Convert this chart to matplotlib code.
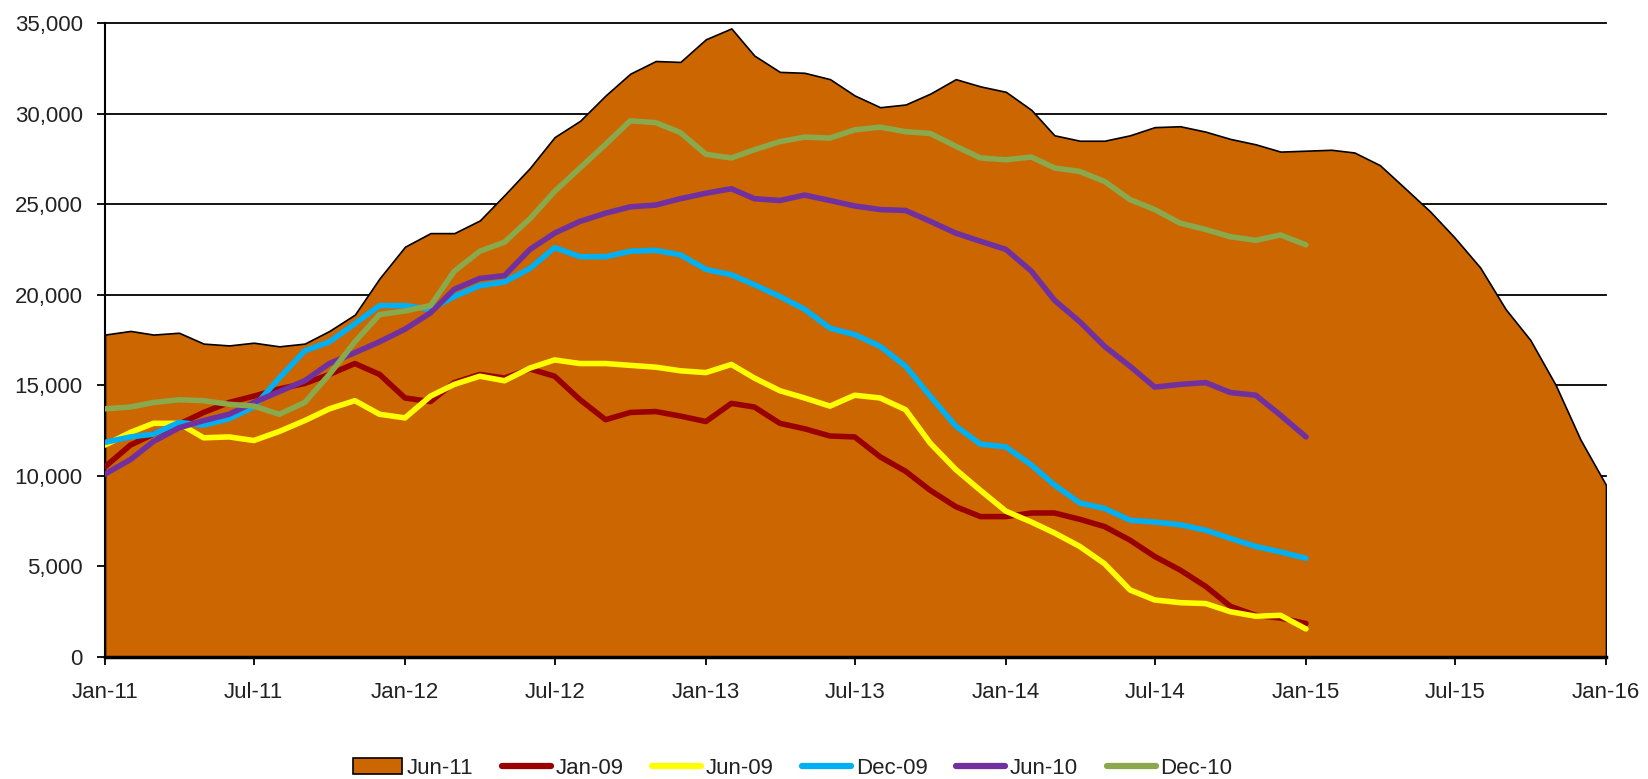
import numpy as np
import pandas as pd
import matplotlib
matplotlib.use("Agg")
import matplotlib.pyplot as plt
import matplotlib.dates as mdates
from matplotlib.ticker import FuncFormatter
from matplotlib.patches import Patch
from matplotlib.lines import Line2D

plt.rcParams['font.family'] = ['Liberation Sans', 'DejaVu Sans']

# monthly readings, Jan-11 .. Jan-16 (area) and Jan-11 .. Jan-15 (lines)
area_dates = pd.date_range("2011-01-01", "2016-01-01", freq="MS")
line_dates = pd.date_range("2011-01-01", "2015-01-01", freq="MS")

jun11 = [17800, 18000, 17800, 17900, 17300, 17200, 17350, 17150, 17300, 18000,
         18900, 20900, 22650, 23400, 23400, 24100, 25500, 27000, 28700, 29600,
         31000, 32200, 32900, 32850, 34100, 34700, 33200, 32300, 32250, 31900,
         31000, 30350, 30500, 31100, 31900, 31500, 31200, 30200, 28800, 28500,
         28500, 28800, 29250, 29300, 29000, 28600, 28300, 27900, 27950, 28000,
         27850, 27150, 25900, 24600, 23150, 21500, 19200, 17500, 15000, 12000,
         9500]

jan09 = [10500, 11700, 12300, 12850, 13500, 14050, 14400, 14800, 15100, 15600,
         16200, 15600, 14300, 14100, 15150, 15600, 15400, 15900, 15500, 14200,
         13100, 13500, 13550, 13300, 13000, 14000, 13800, 12900, 12600, 12200,
         12150, 11050, 10250, 9200, 8300, 7750, 7750, 7950, 7950, 7600,
         7200, 6450, 5550, 4800, 3900, 2800, 2300, 2150, 1850]

jun09 = [11700, 12400, 12900, 12900, 12100, 12150, 11950, 12450, 13050, 13700,
         14150, 13400, 13200, 14400, 15050, 15500, 15250, 15950, 16400, 16200,
         16200, 16100, 16000, 15800, 15700, 16150, 15400, 14700, 14300, 13850,
         14450, 14300, 13650, 11800, 10350, 9200, 8050, 7450, 6850, 6100,
         5150, 3700, 3150, 3000, 2950, 2500, 2250, 2300, 1550]

dec09 = [11850, 12150, 12300, 12950, 12800, 13150, 13800, 15400, 16900, 17400,
         18400, 19400, 19400, 19200, 19900, 20500, 20700, 21450, 22600, 22100,
         22100, 22400, 22450, 22200, 21400, 21100, 20550, 19900, 19200, 18150,
         17800, 17150, 16050, 14400, 12750, 11750, 11600, 10600, 9500, 8500,
         8200, 7550, 7450, 7300, 7000, 6550, 6100, 5800, 5450]

jun10 = [10100, 10900, 11900, 12650, 13050, 13400, 14050, 14650, 15250, 16200,
         16800, 17400, 18100, 19000, 20300, 20900, 21050, 22500, 23400, 24050,
         24500, 24850, 24950, 25300, 25600, 25850, 25300, 25200, 25500, 25200,
         24900, 24700, 24650, 24050, 23400, 22950, 22500, 21300, 19700, 18500,
         17150, 16050, 14900, 15050, 15150, 14600, 14450, 13350, 12150]

dec10 = [13700, 13800, 14050, 14200, 14150, 13950, 13850, 13400, 14050, 15600,
         17400, 18900, 19100, 19400, 21300, 22400, 22900, 24200, 25700, 27000,
         28300, 29600, 29500, 28950, 27750, 27550, 28000, 28450, 28700, 28650,
         29100, 29250, 29000, 28900, 28200, 27550, 27450, 27600, 27000, 26800,
         26250, 25250, 24700, 23950, 23600, 23200, 23000, 23300, 22750]

line_series = [("Jan-09", jan09, "#990000"),
               ("Jun-09", jun09, "#FFFF00"),
               ("Dec-09", dec09, "#00B0F0"),
               ("Jun-10", jun10, "#7030A0"),
               ("Dec-10", dec10, "#8AA84C")]

fig = plt.figure(figsize=(16.48, 7.79), dpi=100)
ax = fig.add_axes([0.0637, 0.1566, 0.9108, 0.8139])

ax.fill_between(area_dates, jun11, 0, facecolor="#CC6600", edgecolor="black",
                linewidth=1.2, zorder=2)
for name, vals, col in line_series:
    ax.plot(line_dates, vals, color=col, linewidth=4, solid_capstyle="round",
            solid_joinstyle="round", zorder=3)

ax.set_xlim(pd.Timestamp("2011-01-01"), pd.Timestamp("2016-01-01"))
ax.set_ylim(0, 35000)
ax.set_yticks(np.arange(0, 35001, 5000))
ax.yaxis.set_major_formatter(FuncFormatter(lambda v, p: f"{int(v):,}"))
ax.xaxis.set_major_locator(mdates.MonthLocator(bymonth=[1, 7]))
ax.xaxis.set_major_formatter(mdates.DateFormatter("%b-%y"))

ax.grid(axis="y", color="black", linewidth=1.3, zorder=1)
ax.set_axisbelow(True)
for gl in ax.get_ygridlines():
    gl.set_clip_on(False)
for s in ["top", "right"]:
    ax.spines[s].set_visible(False)
ax.spines["left"].set_linewidth(1.5)
ax.spines["bottom"].set_linewidth(2.5)
ax.spines["bottom"].set_zorder(4)
ax.tick_params(axis="y", length=6, width=1.3, labelsize=16, pad=10, colors="#222222")
ax.tick_params(axis="x", length=6, width=1.3, labelsize=16, pad=12, colors="#222222")
ax.tick_params(axis="both", color="black")

handles = [Patch(facecolor="#CC6600", edgecolor="black", linewidth=1.2, label="Jun-11")]
for name, vals, col in line_series:
    handles.append(Line2D([], [], color=col, linewidth=4.5, solid_capstyle="round", label=name))
fig.legend(handles=handles, loc="center", bbox_to_anchor=(0.481, 0.014), ncol=6,
           frameon=False, fontsize=16, handlelength=2.2, handletextpad=0.2,
           columnspacing=1.3, handleheight=0.7, labelcolor="#222222")

fig.savefig("out.png", dpi=100)
